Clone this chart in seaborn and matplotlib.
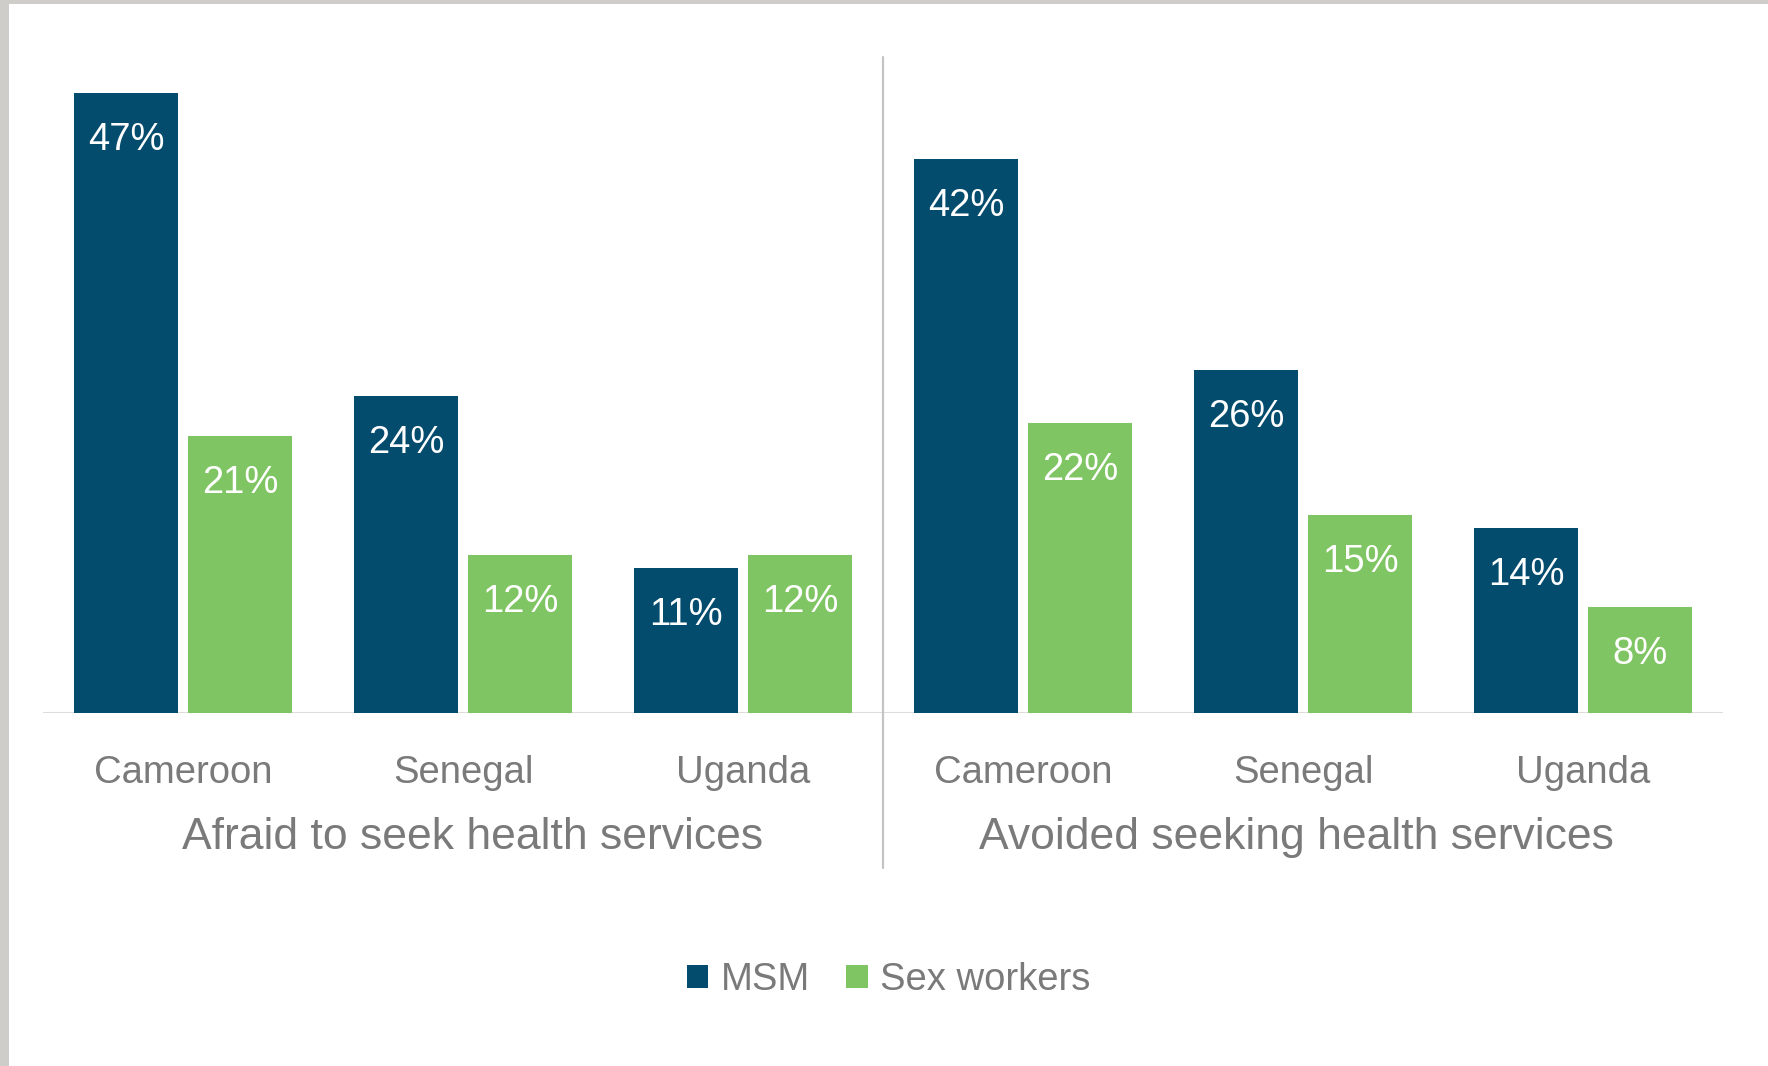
import matplotlib
matplotlib.use("Agg")
import matplotlib.pyplot as plt
from matplotlib.patches import Patch, Rectangle
from matplotlib.lines import Line2D
import pandas as pd
import seaborn as sns

# Data
countries = ["Cameroon", "Senegal", "Uganda"]
groups = ["MSM", "Sex workers"]
msm_afraid = [47, 24, 11]
sw_afraid = [21, 12, 12]
msm_avoided = [42, 26, 14]
sw_avoided = [22, 15, 8]
panel_titles = ["Afraid to seek health services", "Avoided seeking health services"]

navy = "#044c6e"
green = "#80c563"
text_gray = "#7a7a7a"

sns.set_theme(style="white")
plt.rcParams["font.family"] = ["Liberation Sans", "DejaVu Sans"]

W, H = 1768, 1066
fig = plt.figure(figsize=(W / 100, H / 100), dpi=100)
fig.patch.set_facecolor("white")

def long_frame(msm, sw):
    return pd.DataFrame({
        "country": countries * 2,
        "group": [groups[0]] * 3 + [groups[1]] * 3,
        "value": list(msm) + list(sw),
    })

frames = [long_frame(msm_afraid, sw_afraid), long_frame(msm_avoided, sw_avoided)]

base_px = 713
top_px = 57
ymax = (base_px - top_px) / 13.2
panel_left = [43, 883]
panel_w = 840
title_xfrac = [0.511, 0.4925]

for i, df in enumerate(frames):
    ax = fig.add_axes([panel_left[i] / W, (H - base_px) / H, panel_w / W, (base_px - top_px) / H])
    sns.barplot(data=df, x="country", y="value", hue="group", order=countries,
                hue_order=groups, palette=[navy, green], saturation=1,
                width=0.814, gap=0.0885, legend=False, ax=ax, linewidth=0, errorbar=None)
    ax.set_xlim(-0.5, 2.5)
    ax.set_ylim(0, ymax)
    ax.axhline(0, color="#dcdcdc", lw=1.5, zorder=0)
    for s in ax.spines.values():
        s.set_visible(False)
    ax.set_xticks([])
    ax.set_yticks([])
    ax.set_xlabel("")
    ax.set_ylabel("")
    ax.patch.set_alpha(0)

    for container in ax.containers:
        for bar, val in zip(container.patches, container.datavalues):
            ax.annotate(f"{val:.0f}%", (bar.get_x() + bar.get_width() / 2, bar.get_height()),
                        xytext=(0, -41), textcoords="offset points", ha="center",
                        va="baseline", color="white", fontsize=27.5)

    for j, c in enumerate(countries):
        ax.annotate(c, (j, 0), xycoords=("data", "data"), xytext=(0, -50.4),
                    textcoords="offset points", ha="center", va="baseline",
                    color=text_gray, fontsize=27.5, annotation_clip=False)

    ax.annotate(panel_titles[i], (title_xfrac[i], 0), xycoords=("axes fraction", "data"),
                xytext=(0, -97.9), textcoords="offset points", ha="center",
                va="baseline", color=text_gray, fontsize=32, annotation_clip=False)

# Divider between the two panels
fig.add_artist(Line2D([883 / W, 883 / W], [(H - 868) / H, (H - 57) / H],
                      transform=fig.transFigure, color="#c4c4c4", lw=1.6))

# Legend
handles = [Patch(facecolor=navy, edgecolor="none"), Patch(facecolor=green, edgecolor="none")]
fig.legend(handles, groups, loc="center", bbox_to_anchor=(0.5026, (H - 980) / H),
           ncol=2, frameon=False, fontsize=27.5, handlelength=0.56, handleheight=0.56,
           handletextpad=0.32, columnspacing=0.95, labelcolor=text_gray)

# Frame edges at the top and left
fig.add_artist(Rectangle((0, 0), 9 / W, 1, transform=fig.transFigure,
                         facecolor="#cfcdc9", edgecolor="none"))
fig.add_artist(Rectangle((0, 1 - 4 / H), 1, 4 / H, transform=fig.transFigure,
                         facecolor="#cfcdc9", edgecolor="none"))

fig.savefig("out.png", dpi=100, facecolor="white")
